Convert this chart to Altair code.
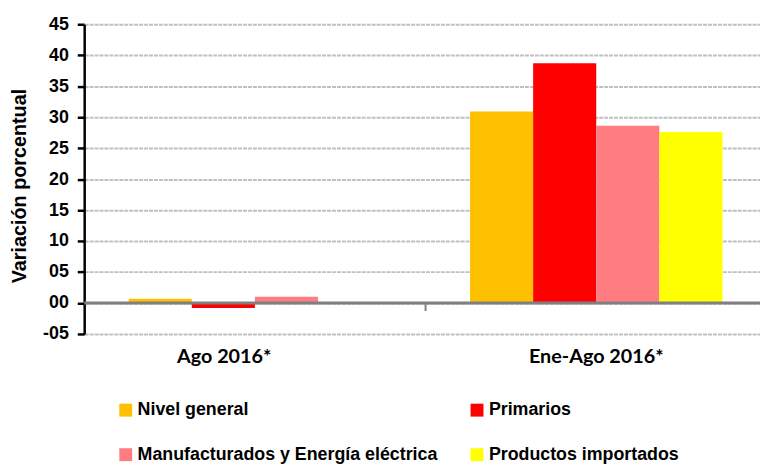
import altair as alt
import pandas as pd

categories = ["Ago 2016*", "Ene-Ago 2016*"]
series = ["Nivel general", "Primarios", "Manufacturados y Energía eléctrica", "Productos importados"]
nivel_general = [0.7, 30.9]
primarios = [-0.8, 38.7]
manufacturados = [1.0, 28.6]
importados = [0.0, 27.6]
colors = ["#FFC000", "#FF0000", "#FF7C80", "#FFFF00"]
y_ticks = [-5, 0, 5, 10, 15, 20, 25, 30, 35, 40, 45]

rows = []
for s, vals in zip(series, [nivel_general, primarios, manufacturados, importados]):
    for c, v in zip(categories, vals):
        rows.append({"cat": c, "serie": s, "val": v})
df = pd.DataFrame(rows)

FONT = "Liberation Sans"

x_axis = alt.Axis(title=None, labelFontSize=20, labelFontWeight="bold", labelFont="Lato",
                  labelColor="black", labelPadding=13, ticks=False, domain=False, grid=False,
                  labelAngle=0,
                  labelOffset={"condition": {"test": "datum.value == 'Ago 2016*'", "value": -31},
                               "value": 0})
x_scale = alt.Scale(paddingInner=0, paddingOuter=0)
y_scale = alt.Scale(domain=[-5, 45], nice=False, zero=False)
y_axis = alt.Axis(values=y_ticks, tickCount=11, title="Variación porcentual", titleFont=FONT,
                  titleFontSize=20, titleFontWeight="bold", titleColor="black",
                  titleX=-65, titleY=163, titleBaseline="middle", labelOverlap=False,
                  labelFont=FONT, labelFontSize=18, labelFontWeight="bold",
                  labelColor="black", labelPadding=9,
                  labelExpr="(datum.value < 0 ? '-' : '') + (abs(datum.value) < 10 ? '0' : '') + abs(datum.value)",
                  domainColor="black", domainWidth=2.5, tickColor="black", tickSize=7,
                  tickWidth=2.5, grid=True, gridColor="#C0C0C0", gridWidth=2,
                  gridDash=[4, 1])

bars = alt.Chart(df).mark_bar().encode(
    x=alt.X("cat:N", sort=categories, scale=x_scale, axis=x_axis),
    xOffset=alt.XOffset("serie:N", sort=series, scale=alt.Scale(paddingInner=0, paddingOuter=0.705)),
    y=alt.Y("val:Q", scale=y_scale, axis=y_axis),
    color=alt.Color("serie:N", sort=series,
                    scale=alt.Scale(domain=series, range=colors),
                    legend=alt.Legend(title=None, orient="none", legendX=33, legendY=381,
                                      columns=2, direction="horizontal",
                                      symbolType="square", symbolSize=170,
                                      symbolStrokeWidth=0, labelFont=FONT, labelFontSize=18,
                                      labelFontWeight="bold", labelColor="black",
                                      labelLimit=450, labelOffset=3, columnPadding=30,
                                      rowPadding=27)),
)

zero_line = alt.Chart(pd.DataFrame({"y": [0]})).mark_rule(color="#808080", strokeWidth=3).encode(
    y=alt.Y("y:Q", scale=y_scale, axis=y_axis)
)

mid_tick = alt.Chart(pd.DataFrame({"cat": [categories[1]], "y": [0], "y2": [-1.3]})).mark_rule(
    color="#808080", strokeWidth=2
).encode(
    x=alt.X("cat:N", sort=categories, scale=x_scale, axis=x_axis, bandPosition=0),
    y=alt.Y("y:Q", scale=y_scale, axis=y_axis),
    y2="y2:Q",
)

chart = alt.layer(bars, zero_line, mid_tick).properties(
    width=690, height=313,
    autosize=alt.AutoSizeParams(type="none"),
    padding={"left": 77, "top": 14, "right": -7, "bottom": 129},
).configure_view(stroke=None)

chart.save("out.html", embed_options={"renderer": "svg", "actions": False})
